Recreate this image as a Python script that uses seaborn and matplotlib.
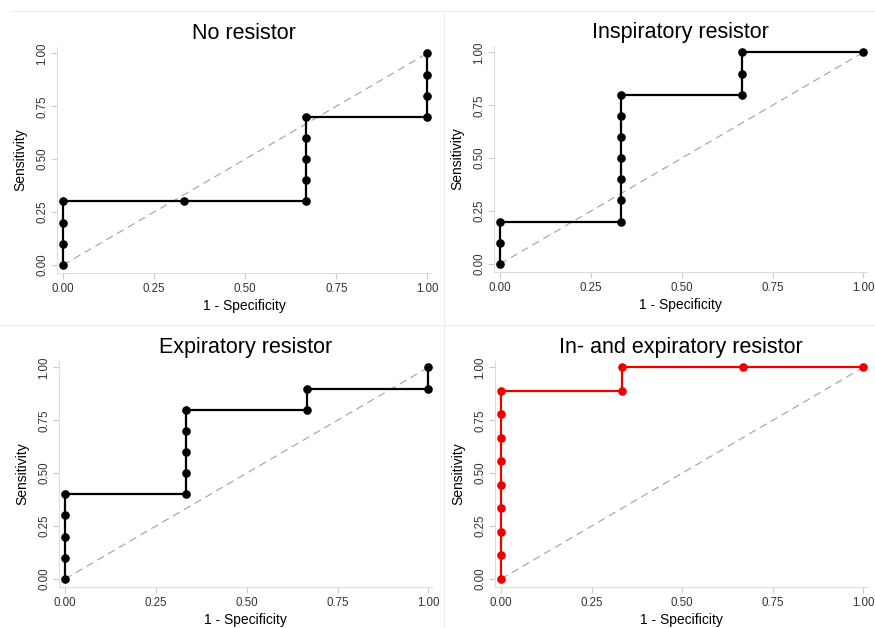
import numpy as np
import pandas as pd
import seaborn as sns
import matplotlib.pyplot as plt
from matplotlib.lines import Line2D

# ROC points (1 - specificity, sensitivity)
titles = ["No resistor", "Inspiratory resistor", "Expiratory resistor", "In- and expiratory resistor"]

fpr_none = [0, 0, 0, 0, 1/3, 2/3, 2/3, 2/3, 2/3, 2/3, 1, 1, 1, 1]
tpr_none = [0, 0.1, 0.2, 0.3, 0.3, 0.3, 0.4, 0.5, 0.6, 0.7, 0.7, 0.8, 0.9, 1.0]

fpr_insp = [0, 0, 0, 1/3, 1/3, 1/3, 1/3, 1/3, 1/3, 1/3, 2/3, 2/3, 2/3, 1]
tpr_insp = [0, 0.1, 0.2, 0.2, 0.3, 0.4, 0.5, 0.6, 0.7, 0.8, 0.8, 0.9, 1.0, 1.0]

fpr_exp = [0, 0, 0, 0, 0, 1/3, 1/3, 1/3, 1/3, 1/3, 2/3, 2/3, 1, 1]
tpr_exp = [0, 0.1, 0.2, 0.3, 0.4, 0.4, 0.5, 0.6, 0.7, 0.8, 0.8, 0.9, 0.9, 1.0]

fpr_both = [0, 0, 0, 0, 0, 0, 0, 0, 0, 1/3, 1/3, 2/3, 1]
tpr_both = [0, 1/9, 2/9, 3/9, 4/9, 5/9, 6/9, 7/9, 8/9, 8/9, 1.0, 1.0, 1.0]

colors = ["black", "black", "black", "#ee0000"]
ticks = [0, 0.25, 0.5, 0.75, 1.0]
tick_labels = ["0.00", "0.25", "0.50", "0.75", "1.00"]

sns.set_style("white")
plt.rcParams["font.family"] = ["Liberation Sans", "DejaVu Sans"]

fig = plt.figure(figsize=(8.75, 6.28), dpi=100)
W, H = 875, 628
# axes boxes in pixels: left, right, bottom, top
boxes = [(57, 431, 273, 47), (494, 867, 272, 46), (59, 432, 587, 361), (495, 867, 587, 361)]

series = [(fpr_none, tpr_none), (fpr_insp, tpr_insp), (fpr_exp, tpr_exp), (fpr_both, tpr_both)]

for (l, r, b, t), title, (fx, ty), col in zip(boxes, titles, series, colors):
    ax = fig.add_axes([l / W, 1 - b / H, (r - l) / W, (b - t) / H])
    df = pd.DataFrame({"fpr": fx, "tpr": ty})
    ax.plot([0, 1], [0, 1], color="#aaaaaa", lw=0.9, ls=(0, (6, 4)), zorder=1)
    sns.lineplot(data=df, x="fpr", y="tpr", sort=False, estimator=None,
                 color=col, lw=1.6, marker="o", markersize=6.2,
                 markeredgewidth=0, ax=ax, zorder=3)
    ax.set_xlim(-0.0165, 1.01)
    ax.set_ylim(-0.038, 1.03)
    ax.set_xticks(ticks)
    ax.set_xticklabels(tick_labels)
    ax.set_yticks(ticks)
    ax.set_yticklabels(tick_labels, rotation=90, va="center")
    ax.tick_params(axis="both", length=4, width=0.8, color="#cccccc",
                   labelsize=8.3, labelcolor="#333333", pad=3, direction="out",
                   bottom=True, left=True)
    ax.tick_params(axis="y", pad=2)
    for side in ["top", "right"]:
        ax.spines[side].set_visible(False)
    for side in ["left", "bottom"]:
        ax.spines[side].set_color("#dddddd")
        ax.spines[side].set_linewidth(0.8)
    ax.set_title(title, fontsize=15.5, pad=6, color="black")
    ax.set_xlabel("1 - Specificity", fontsize=10, labelpad=3, color="black")
    ax.set_ylabel("Sensitivity", fontsize=10, labelpad=7, color="black")

# faint panel borders
sep = "#eeeeee"
fig.add_artist(Line2D([10 / W, 1], [1 - 11 / H, 1 - 11 / H], color=sep, lw=0.8))
fig.add_artist(Line2D([0, 1], [1 - 325 / H, 1 - 325 / H], color=sep, lw=0.8))
fig.add_artist(Line2D([444 / W, 444 / W], [0, 1 - 11 / H], color=sep, lw=0.8))

fig.savefig("out.png", dpi=100)
